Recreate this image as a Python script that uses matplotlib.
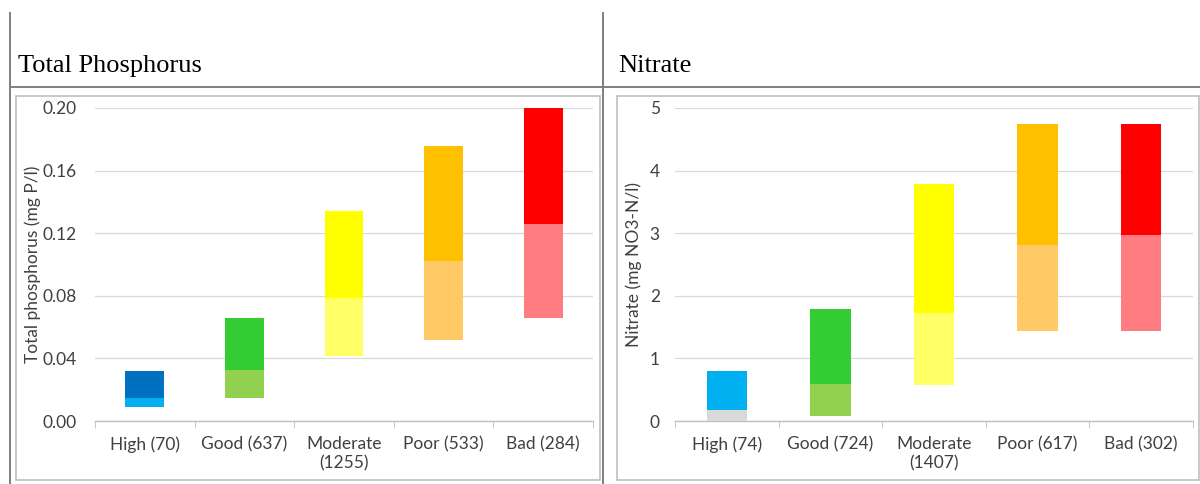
import numpy as np
import matplotlib
matplotlib.use("Agg")
import matplotlib.pyplot as plt
from matplotlib.lines import Line2D
from matplotlib.patches import Rectangle

#---------------------DATA------------------------
tp_labels = ["High (70)", "Good (637)", "Moderate\n(1255)", "Poor (533)", "Bad (284)"]
tp_low = [0.009, 0.0147, 0.0415, 0.052, 0.066]
tp_mid = [0.0147, 0.0326, 0.0786, 0.102, 0.126]
tp_high = [0.032, 0.066, 0.134, 0.176, 0.200]

no3_labels = ["High (74)", "Good (724)", "Moderate\n(1407)", "Poor (617)", "Bad (302)"]
no3_low = [0.0, 0.08, 0.57, 1.44, 1.44]
no3_mid = [0.18, 0.59, 1.72, 2.81, 2.97]
no3_high = [0.80, 1.79, 3.79, 4.74, 4.74]

tp_dark = ["#0070C0", "#33CC33", "#FFFF00", "#FFC000", "#FF0000"]
tp_light = ["#00B0F0", "#92D050", "#FFFF66", "#FFC966", "#FF7C80"]
no3_dark = ["#00B0F0", "#33CC33", "#FFFF00", "#FFC000", "#FF0000"]
no3_light = ["#D9D9D9", "#92D050", "#FFFF66", "#FFC966", "#FF7C80"]

#---------------------FIGURE------------------------
W, H = 1200, 484
fig = plt.figure(figsize=(W / 100, H / 100), dpi=100)
plt.rcParams['font.family'] = ['Lato', 'DejaVu Sans']

def fx(x):
    return x / W

def fy(y):
    return 1 - y / H

# frame lines (table-like layout)
line_col = "#7F7F7F"
fig.add_artist(Line2D([fx(10), fx(10)], [fy(13), fy(484)], color=line_col, lw=1.4, transform=fig.transFigure))
fig.add_artist(Line2D([fx(603), fx(603)], [fy(13), fy(484)], color=line_col, lw=1.4, transform=fig.transFigure))
fig.add_artist(Line2D([fx(10), fx(1200)], [fy(87), fy(87)], color=line_col, lw=1.4, transform=fig.transFigure))

# chart boxes
for x0, x1 in [(16, 600), (617, 1199)]:
    fig.add_artist(Rectangle((fx(x0), fy(480)), fx(x1 - x0), (480 - 96) / H,
                             fill=False, ec="#BFBFBF", lw=1.2, transform=fig.transFigure))

# titles
fig.text(fx(18), fy(72), "Total Phosphorus", family="Liberation Serif", fontsize=19, color="black")
fig.text(fx(618), fy(72), "Nitrate", family="Liberation Serif", fontsize=19, color="black")


def draw_panel(rect, labels, low, mid, high, dark, light, ymax, yticks, fmt, ylabel, ylab_x, ypad):
    ax = fig.add_axes(rect)
    x = np.arange(len(labels))
    low = np.array(low)
    mid = np.array(mid)
    high = np.array(high)
    ax.bar(x, mid - low, bottom=low, width=0.39, color=light, zorder=3)
    ax.bar(x, high - mid, bottom=mid, width=0.39, color=dark, zorder=3)
    ax.set_xlim(-0.5, len(labels) - 0.5)
    ax.set_ylim(0, ymax)
    ax.set_yticks(yticks)
    ax.set_yticklabels([fmt.format(v) for v in yticks])
    ax.set_xticks(x)
    ax.set_xticklabels(labels)
    ax.set_xticks(np.arange(-0.5, len(labels)), minor=True)
    ax.tick_params(axis="x", which="major", length=0, pad=11, labelsize=12.5, colors="#404040")
    ax.tick_params(axis="x", which="minor", length=5, color="#BFBFBF", direction="out")
    ax.tick_params(axis="y", length=0, pad=ypad, labelsize=12.5, colors="#404040")
    ax.grid(axis="y", color="#D9D9D9", lw=0.9, zorder=0)
    ax.set_axisbelow(True)
    for s in ["left", "right", "top"]:
        ax.spines[s].set_visible(False)
    ax.spines["bottom"].set_color("#BFBFBF")
    ax.spines["bottom"].set_linewidth(1.0)
    ax.set_ylabel(ylabel, fontsize=12.5, color="#404040")
    ax.yaxis.set_label_coords(ylab_x, 0.5)
    return ax


draw_panel([fx(95), fy(421), fx(593 - 95), (421 - 108) / H],
           tp_labels, tp_low, tp_mid, tp_high, tp_dark, tp_light,
           0.20, [0.0, 0.04, 0.08, 0.12, 0.16, 0.20], "{:.2f}",
           "Total phosphorus (mg P/l)", -0.108, 13)

draw_panel([fx(675), fy(421), fx(1193 - 675), (421 - 108) / H],
           no3_labels, no3_low, no3_mid, no3_high, no3_dark, no3_light,
           5, [0, 1, 2, 3, 4, 5], "{:d}",
           "Nitrate (mg NO3-N/l)", -0.064, 11)

fig.savefig("out.png", dpi=100)
